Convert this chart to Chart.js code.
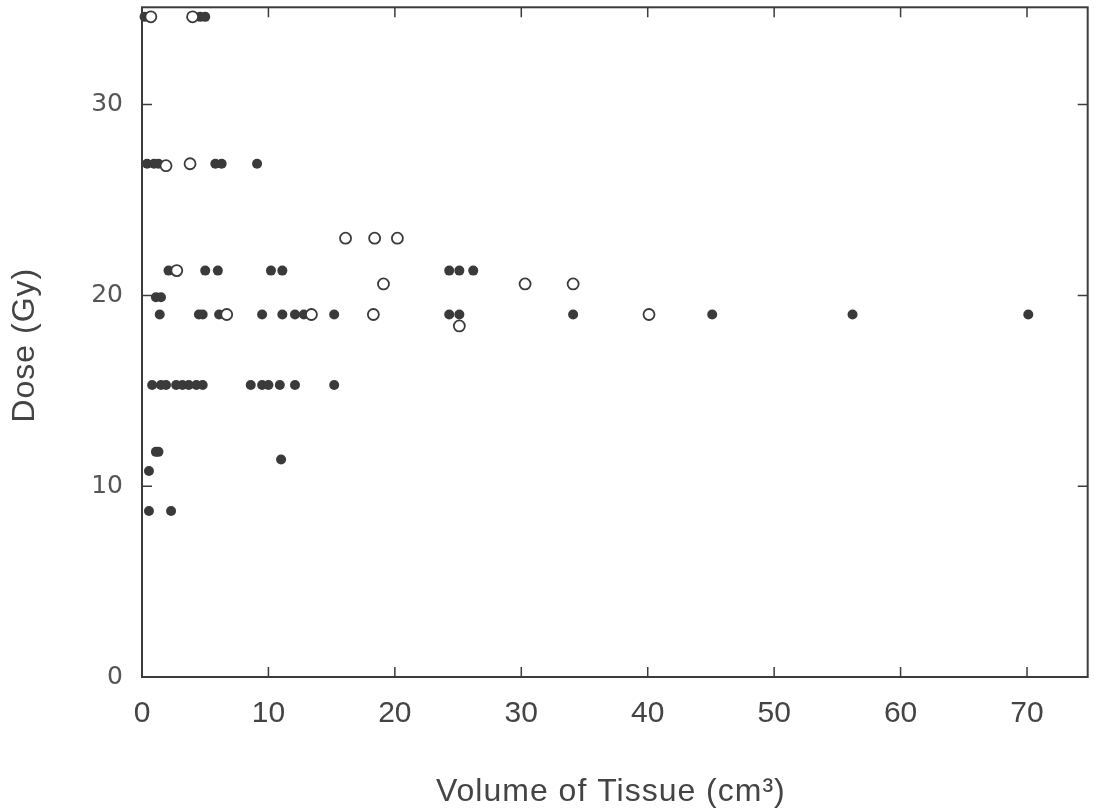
<!DOCTYPE html>
<html><head><meta charset="utf-8">
<script src="https://cdn.jsdelivr.net/npm/chart.js@4.4.1/dist/chart.umd.min.js"></script>
<style>html,body{margin:0;padding:0;background:#fff}#wrap{width:1095px;height:808px}</style>
</head><body><div id="wrap"><canvas id="c" width="1095" height="808"></canvas></div>
<script>
// Filled circles (dose vs volume)
const filledX = [0.2, 4.6, 5.0,
  0.4, 0.95, 1.3, 5.8, 6.3, 9.1,
  2.1, 5.0, 6.0, 10.2, 11.1, 24.3, 25.1, 26.2,
  1.1, 1.5,
  1.4, 4.5, 4.8, 6.1, 9.5, 11.1, 12.1, 12.8, 15.2, 24.3, 25.1, 34.1, 45.1, 56.2, 70.1,
  0.8, 1.5, 1.9, 2.7, 3.2, 3.7, 4.3, 4.8, 8.6, 9.5, 10.0, 10.9, 12.1, 15.2,
  1.1, 1.3, 11.0, 0.55, 0.55, 2.3];
const filledY = [34.6, 34.6, 34.6,
  26.9, 26.9, 26.9, 26.9, 26.9, 26.9,
  21.3, 21.3, 21.3, 21.3, 21.3, 21.3, 21.3, 21.3,
  19.9, 19.9,
  19.0, 19.0, 19.0, 19.0, 19.0, 19.0, 19.0, 19.0, 19.0, 19.0, 19.0, 19.0, 19.0, 19.0, 19.0,
  15.3, 15.3, 15.3, 15.3, 15.3, 15.3, 15.3, 15.3, 15.3, 15.3, 15.3, 15.3, 15.3, 15.3,
  11.8, 11.8, 11.4, 10.8, 8.7, 8.7];
// Open circles
const openX = [0.7, 4.0, 1.9, 3.8, 16.1, 18.4, 20.2, 2.75, 19.1, 30.3, 34.1, 6.7, 13.4, 18.3, 40.1, 25.1];
const openY = [34.6, 34.6, 26.8, 26.9, 23.0, 23.0, 23.0, 21.3, 20.6, 20.6, 20.6, 19.0, 19.0, 19.0, 19.0, 18.4];
const xTicks = [0, 10, 20, 30, 40, 50, 60, 70];
const yTicks = [0, 10, 20, 30];
const xTitle = 'Volume of Tissue (cm³)';
const yTitle = 'Dose (Gy)';

const ink = '#3a3a3a';
const toPts = (xs, ys) => xs.map((x, i) => ({x: x, y: ys[i]}));

const framePlugin = {
  id: 'frame',
  afterDraw(chart) {
    const {ctx, chartArea: a, scales: {x, y}} = chart;
    ctx.save();
    ctx.strokeStyle = '#3c3c3c';
    ctx.lineWidth = 2;
    ctx.strokeRect(a.left, a.top, a.right - a.left, a.bottom - a.top);
    ctx.lineWidth = 1.5;
    const tl = 10;
    ctx.beginPath();
    xTicks.forEach(v => {
      if (v === 0) return;
      const px = x.getPixelForValue(v);
      ctx.moveTo(px, a.bottom); ctx.lineTo(px, a.bottom - tl);
      ctx.moveTo(px, a.top); ctx.lineTo(px, a.top + tl);
    });
    yTicks.forEach(v => {
      if (v === 0) return;
      const py = y.getPixelForValue(v);
      ctx.moveTo(a.left, py); ctx.lineTo(a.left + tl, py);
      ctx.moveTo(a.right, py); ctx.lineTo(a.right - tl, py);
    });
    ctx.stroke();
    // axis titles
    ctx.fillStyle = '#444';
    ctx.font = '32px "Liberation Sans", sans-serif';
    try { ctx.letterSpacing = '1px'; } catch (e) {}
    ctx.textAlign = 'center';
    ctx.textBaseline = 'middle';
    ctx.fillText(xTitle, (a.left + a.right) / 2 - 4, 792);
    ctx.translate(25, (a.top + a.bottom) / 2 + 3);
    ctx.rotate(-Math.PI / 2);
    ctx.fillText(yTitle, 0, 0);
    ctx.restore();
  }
};

new Chart(document.getElementById('c'), {
  type: 'scatter',
  data: {
    datasets: [
      {label: 'open', data: toPts(openX, openY), order: 0,
       pointRadius: 5.5, pointHoverRadius: 5.5, pointBackgroundColor: '#fff',
       pointBorderColor: ink, pointBorderWidth: 1.8, clip: false},
      {label: 'filled', data: toPts(filledX, filledY), order: 1,
       pointRadius: 5, pointHoverRadius: 5, pointBackgroundColor: ink,
       pointBorderColor: ink, pointBorderWidth: 0, clip: false}
    ]
  },
  options: {
    responsive: false,
    animation: false,
    events: [],
    layout: {padding: {top: 7, right: 3, left: 0, bottom: 0}},
    plugins: {legend: {display: false}, tooltip: {enabled: false}},
    scales: {
      x: {
        type: 'linear', min: 0, max: 74.8,
        afterBuildTicks: s => { s.ticks = xTicks.map(v => ({value: v})); },
        afterFit: s => { s.height = 131; s.paddingLeft = 0; s.paddingRight = 0; },
        grid: {display: false, drawTicks: false},
        border: {display: false},
        ticks: {padding: 19, color: '#444', font: {family: '"Liberation Sans", sans-serif', size: 30}}
      },
      y: {
        type: 'linear', min: 0, max: 35.1,
        afterBuildTicks: s => { s.ticks = yTicks.map(v => ({value: v})); },
        afterFit: s => { s.width = 142; s.paddingTop = 0; s.paddingBottom = 0; },
        grid: {display: false, drawTicks: false},
        border: {display: false},
        ticks: {padding: 19, color: '#555', font: {family: '"DejaVu Sans", sans-serif', size: 25}}
      }
    }
  },
  plugins: [framePlugin]
});
</script></body></html>
